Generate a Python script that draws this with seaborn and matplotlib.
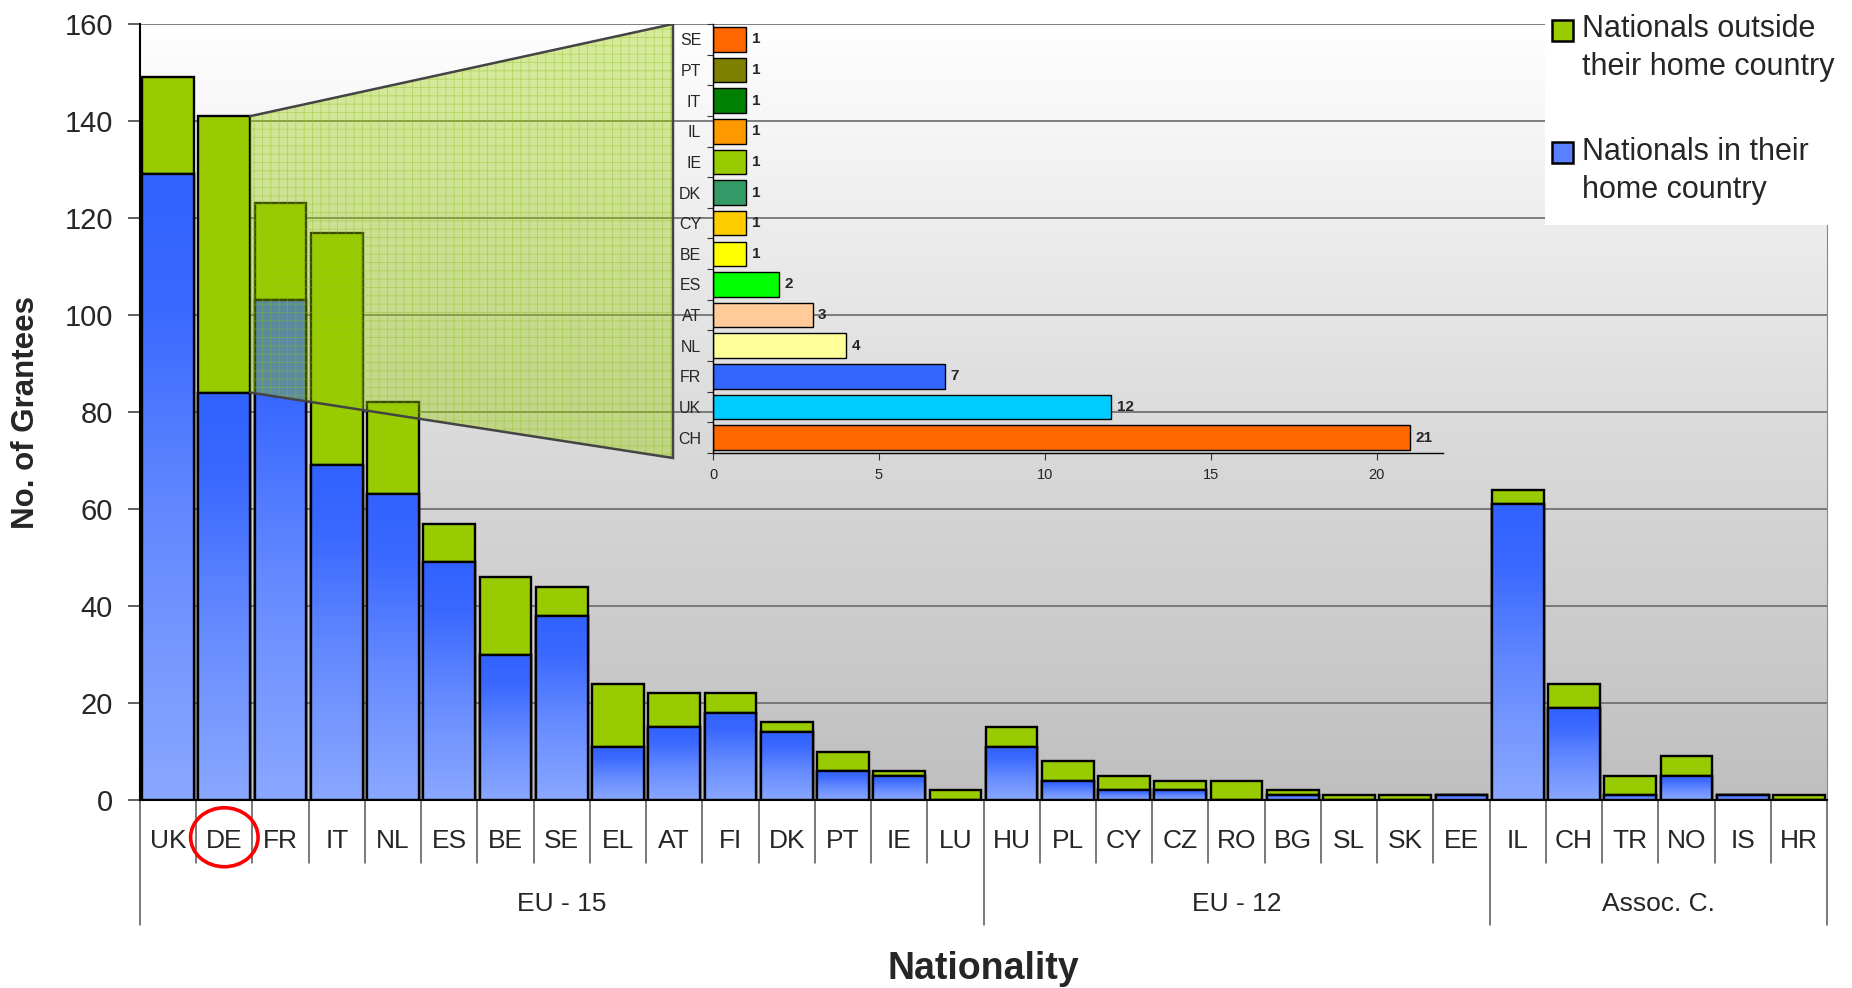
import numpy as np
import pandas as pd
import matplotlib
matplotlib.use("Agg")
import matplotlib.pyplot as plt
import matplotlib.transforms as mtrans
from matplotlib.patches import Polygon, Rectangle, Ellipse
from matplotlib.colors import LinearSegmentedColormap
import seaborn as sns

# ---------------- data ----------------
countries = ["UK", "DE", "FR", "IT", "NL", "ES", "BE", "SE", "EL", "AT", "FI", "DK", "PT", "IE", "LU",
             "HU", "PL", "CY", "CZ", "RO", "BG", "SL", "SK", "EE",
             "IL", "CH", "TR", "NO", "IS", "HR"]
home = [129, 84, 103, 69, 63, 49, 30, 38, 11, 15, 18, 14, 6, 5, 0,
        11, 4, 2, 2, 0, 1, 0, 0, 1,
        61, 19, 1, 5, 1, 0]
outside = [20, 57, 20, 48, 19, 8, 16, 6, 13, 7, 4, 2, 4, 1, 2,
           4, 4, 3, 2, 4, 1, 1, 1, 0,
           3, 5, 4, 4, 0, 1]
groups = ["EU - 15", "EU - 12", "Assoc. C."]
group_sizes = [15, 9, 6]
y_ticks = [0, 20, 40, 60, 80, 100, 120, 140, 160]

inset_countries = ["SE", "PT", "IT", "IL", "IE", "DK", "CY", "BE", "ES", "AT", "NL", "FR", "UK", "CH"]
inset_values = [1, 1, 1, 1, 1, 1, 1, 1, 2, 3, 4, 7, 12, 21]
inset_colors = ["#ff6600", "#808000", "#008000", "#ff9900", "#99cc00", "#339966", "#ffcc00",
                "#ffff00", "#00ff00", "#ffcc99", "#ffff99", "#3366ff", "#00ccff", "#ff6600"]
inset_ticks = [0, 5, 10, 15, 20]

highlight = "DE"
legend_labels = ["Nationals outside\ntheir home country", "Nationals in their\nhome country"]

totals = [h + o for h, o in zip(home, outside)]

# ---------------- style ----------------
sns.set_style("white")
plt.rcParams["font.family"] = ["Liberation Sans", "DejaVu Sans"]
plt.rcParams["hatch.linewidth"] = 0.6

green = "#99cc00"
blue = "#5a80ff"
FW, FH = 1852, 988  # full pixel frame used for layout

fig = plt.figure(figsize=(18.52, 9.88), dpi=100)
ax_l, ax_r, ax_t, ax_b = 140, 1827, 24, 800
ax = fig.add_axes([ax_l / FW, 1 - ax_b / FH, (ax_r - ax_l) / FW, (ax_b - ax_t) / FH])

df = pd.DataFrame({"country": countries, "home": home, "total": totals})
bw = 0.92
sns.barplot(data=df, x="country", y="total", color=green, saturation=1, width=bw,
            edgecolor="black", linewidth=1.7, errorbar=None, ax=ax, zorder=2)
sns.barplot(data=df, x="country", y="home", color=blue, saturation=1, width=bw,
            edgecolor="black", linewidth=1.7, errorbar=None, ax=ax, zorder=2)

xmin, xmax = -0.5, len(countries) - 0.5
ymin, ymax = 0, 160

# background gradient
bg_cmap = LinearSegmentedColormap.from_list("bg", ["#bfbfbf", "#dcdcdc", "#ffffff"])
ax.imshow(np.linspace(0, 1, 256).reshape(-1, 1), cmap=bg_cmap, origin="lower",
          extent=[xmin, xmax, ymin, ymax], aspect="auto", zorder=0)

# gradient fill for blue segments
blue_cmap = LinearSegmentedColormap.from_list(
    "bl", [(0, "#8aa8ff"), (0.45, "#6389ff"), (0.8, "#3a68ff"), (1, "#3162ff")])
grad = np.linspace(0, 1, 256).reshape(-1, 1)
for rect in ax.containers[1]:
    h = rect.get_height()
    if h <= 0:
        continue
    x0, w = rect.get_x(), rect.get_width()
    im = ax.imshow(grad, cmap=blue_cmap, origin="lower", extent=[x0, x0 + w, 0, h],
                   aspect="auto", zorder=2.1)
    im.set_clip_path(rect)
    ax.add_patch(Rectangle((x0, 0), w, h, fill=False, ec="black", lw=1.7, zorder=2.2))

ax.set_xlim(xmin, xmax)
ax.set_ylim(ymin, ymax)
ax.set_yticks(y_ticks)
ax.set_axisbelow(True)
ax.grid(axis="y", color="#6a6a6a", lw=1.2)
ax.grid(axis="x", visible=False)
ax.tick_params(axis="y", length=8.5, width=1.2, color="#444444", labelsize=21, pad=11, left=True)
ax.tick_params(axis="x", length=0, labelbottom=False)
ax.set_xlabel("")
ax.set_ylabel("")
ax.spines["top"].set_visible(False)
ax.spines["right"].set_color("#888888")
ax.spines["left"].set_color("black")
ax.spines["left"].set_linewidth(1.5)
ax.spines["bottom"].set_color("black")
ax.spines["bottom"].set_linewidth(1.5)

# category axis
trans = mtrans.blended_transform_factory(ax.transData, ax.transAxes)
for i, c in enumerate(countries):
    ax.text(i, -0.053, c, transform=trans, ha="center", va="center", fontsize=19)
bounds = np.cumsum([0] + group_sizes)
for k in range(len(countries) + 1):
    long = k in bounds
    ax.plot([k - 0.5, k - 0.5], [0, -0.161 if long else -0.081], transform=trans,
            clip_on=False, color="#555555", lw=1.1)
for g, start, size in zip(groups, bounds[:-1], group_sizes):
    ax.text(start + (size - 1) / 2, -0.134, g, transform=trans, ha="center", va="center",
            fontsize=19)

# highlight circle
hi = countries.index(highlight)
ax.add_patch(Ellipse((hi, -0.048), width=1.2, height=0.076, transform=trans, fill=False,
                     ec="red", lw=2.6, clip_on=False, zorder=5))

# zoom trapezoid from DE's "outside" segment to the inset
trap_x = (673 - ax_l) / (ax_r - ax_l) * (xmax - xmin) + xmin
trap_ybot = (ax_b - 458) / (ax_b - ax_t) * (ymax - ymin)
de_right = hi + bw / 2
verts = [(de_right, home[hi]), (de_right, totals[hi]), (trap_x, ymax), (trap_x, trap_ybot)]
ax.add_patch(Polygon(verts, closed=True, facecolor=(0.6, 0.8, 0.0, 0.38),
                     edgecolor=(0.55, 0.75, 0.1, 0.45), hatch="++", lw=0, zorder=3))
ax.plot([verts[1][0], verts[2][0], verts[3][0], verts[0][0]],
        [verts[1][1], verts[2][1], verts[3][1], verts[0][1]],
        color="#444444", lw=1.8, zorder=3.1, solid_joinstyle="miter")

fig.text((ax_l + ax_r) / 2 / FW, 0.019, "Nationality", fontsize=27, fontweight="bold",
         ha="center", va="center")
fig.text(26 / FW, 1 - 412 / FH, "No. of Grantees", fontsize=22.5, fontweight="bold",
         rotation=90, ha="center", va="center")

# ---------------- inset ----------------
in_l, in_r, in_t, in_b = 713, 1443, 24, 453
ins = fig.add_axes([in_l / FW, 1 - in_b / FH, (in_r - in_l) / FW, (in_b - in_t) / FH])
ins.set_facecolor("none")
sns.barplot(x=inset_values, y=inset_countries, hue=inset_countries, palette=inset_colors,
            legend=False, orient="h", width=0.8, edgecolor="black", linewidth=1.0,
            saturation=1, errorbar=None, ax=ins)
for cont in ins.containers:
    ins.bar_label(cont, fmt="%d", padding=4, fontsize=11, fontweight="bold")
ins.set_xlim(0, 22)
ins.set_ylim(len(inset_countries) - 0.5, -0.5)
ins.set_xticks(inset_ticks)
ins.set_yticks(np.arange(-0.5, len(inset_countries)), minor=True)
ins.tick_params(axis="y", which="major", length=0, labelsize=11.5, pad=8.5)
ins.tick_params(axis="y", which="minor", length=4, width=0.8, left=True, color="#333333")
ins.tick_params(axis="x", length=5, width=0.8, bottom=True, labelsize=10.5, pad=6, color="#333333")
ins.set_xlabel("")
ins.set_ylabel("")
ins.grid(False)
for s in ["top", "right"]:
    ins.spines[s].set_visible(False)
for s in ["left", "bottom"]:
    ins.spines[s].set_color("black")
    ins.spines[s].set_linewidth(1.0)

# ---------------- legend ----------------
fig.patches.append(Rectangle((1545 / FW, 1 - 225 / FH), 1 - 1545 / FW, 225 / FH,
                             transform=fig.transFigure, facecolor="white", edgecolor="none",
                             zorder=5))
leg_colors = [green, blue]
leg_marker_tops = [20, 142]
leg_baselines = [37, 160]
for lab, col, top, base in zip(legend_labels, leg_colors, leg_marker_tops, leg_baselines):
    fig.patches.append(Rectangle((1552 / FW, 1 - (top + 21) / FH), 21 / FW, 21 / FH,
                                 transform=fig.transFigure, facecolor=col,
                                 edgecolor="black", lw=1.8, zorder=6))
    for j, line in enumerate(lab.split("\n")):
        fig.text(1582 / FW, 1 - (base + 38 * j) / FH, line, fontsize=22,
                 ha="left", va="baseline", zorder=6)

fig.savefig("out.png", dpi=100)
